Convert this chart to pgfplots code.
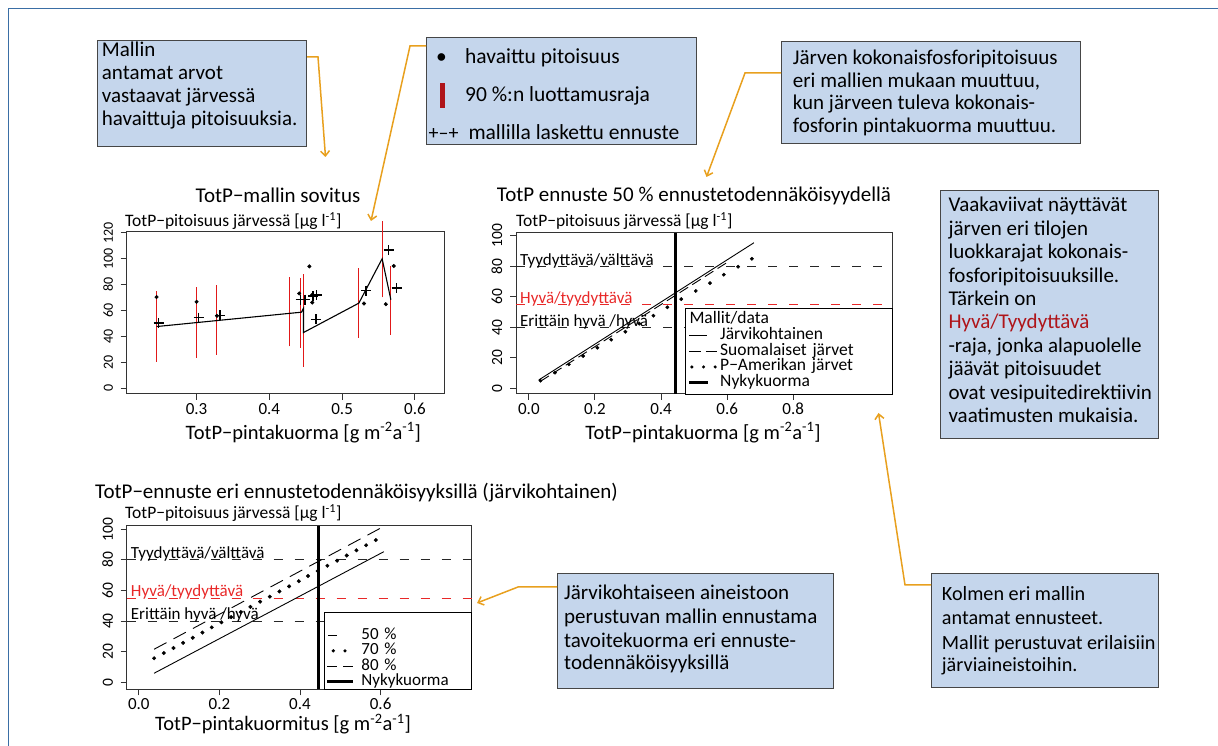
\documentclass[border=0pt]{standalone}
\usepackage{fontspec}
\setmainfont{Carlito}
\usepackage{pgfplots}
\pgfplotsset{compat=1.18}
\usetikzlibrary{arrows.meta}
\definecolor{boxblue}{RGB}{197,214,236}
\definecolor{boxedge}{RGB}{70,70,70}
\definecolor{orarrow}{RGB}{232,160,30}
\definecolor{framecol}{RGB}{58,110,165}
\definecolor{rred}{RGB}{225,25,25}
\definecolor{dred}{RGB}{175,20,25}
\definecolor{lred}{RGB}{232,40,40}
\newcommand\boxfont{\fontsize{21}{23}\selectfont}
\newcommand\boxfontB{\fontsize{21.5}{23}\selectfont}
\newcommand\boxfontF{\fontsize{20.2}{23}\selectfont}
\newcommand\titlefont{\fontsize{21}{24}\selectfont}
\newcommand\ylabfont{\fontsize{17.5}{20}\selectfont}
\newcommand\xlabfont{\fontsize{20.5}{24}\selectfont}
\newcommand\xticksize{\fontsize{17}{20}\selectfont}
\newcommand\yticksize{\fontsize{15.5}{18}\selectfont}
\newcommand\ytickone{\fontsize{14}{16}\selectfont}
\newcommand\clsfont{\fontsize{17}{20}\selectfont}
\newcommand\legfont{\fontsize{17.5}{20}\selectfont}
\newcommand\legfontC{\fontsize{17}{20}\selectfont}
\pgfplotsset{
  rplot/.style={
    scale only axis, clip=false,
    axis line style={line width=1pt, black!80},
    tick align=outside, tick pos=left,
    major tick length=6pt,
    tick style={black!80, line width=1pt},
    minor tick num=0,
    /pgf/number format/assume math mode=true,
    y tick label style={font=\yticksize, rotate=90, anchor=south, inner xsep=0pt, inner ysep=7.5pt},
    x tick label style={font=\xticksize, anchor=north, inner sep=3pt, /pgf/number format/.cd, fixed, fixed zerofill, precision=1, /tikz/.cd},
  },
  clsline/.style={line width=0.9pt, dash pattern=on 9pt off 12pt},
}
\begin{document}
\begin{tikzpicture}[x=1pt,y=1pt]
\path[use as bounding box] (0,0) rectangle (1218,746);
\draw[framecol, line width=1.5pt] (8.5,0) -- (8.5,737.5) -- (1218,737.5);
\tikzset{tbox/.style={fill=boxblue, draw=boxedge, line width=1pt},
  tl/.style={anchor=base west, inner sep=0pt, font=\boxfont},
  oarrow/.style={draw=orarrow, line width=1.5pt, -{Straight Barb[length=5pt,width=9pt]}}}
% Box A
\draw[tbox] (97.3,599.3) rectangle (306,705.3);
\node[tl] at (101.7,689.3) {Mallin};
\node[tl] at (101.7,666) {antamat arvot};
\node[tl] at (101.7,643.3) {vastaavat järvessä};
\node[tl] at (101.7,620.3) {havaittuja pitoisuuksia.};
% Box B
\draw[tbox] (426.7,601) rectangle (696.7,708.7);
\node[tl, anchor=base, font=\boxfontB] at (441.5,682.7) {•};
\node[tl, font=\boxfontB] at (465,682.7) {havaittu pitoisuus};
\fill[dred] (440,637.7) rectangle (444.7,662.7);
\node[tl, font=\boxfontB] at (465,644.3) {90 \%:n luottamusraja};
\node[tl, font=\fontsize{20}{22}\selectfont] at (428.5,606) {+–+};
\node[tl, font=\boxfontB] at (468.3,606) {mallilla laskettu ennuste};
% Box C
\draw[tbox] (781.7,602) rectangle (1080.7,704.3);
\node[tl] at (792.7,681) {Järven kokonaisfosforipitoisuus};
\node[tl] at (792.7,658.5) {eri mallien mukaan muuttuu,};
\node[tl] at (792.7,636) {kun järveen tuleva kokonais-};
\node[tl] at (792.7,613.5) {fosforin pintakuorma muuttuu.};
% Box D
\draw[tbox] (940.7,307.7) rectangle (1158.3,555.3);
\node[tl] at (948.3,534.3) {Vaakaviivat näyttävät};
\node[tl] at (948.3,510.85) {järven eri tilojen};
\node[tl] at (948.3,487.4) {luokkarajat kokonais-};
\node[tl] at (948.3,463.95) {fosforipitoisuuksille.};
\node[tl] at (948.3,440.5) {Tärkein on};
\node[tl, text=dred] at (948.3,417.05) {Hyvä/Tyydyttävä};
\node[tl] at (948.3,393.6) {-raja, jonka alapuolelle};
\node[tl] at (948.3,370.15) {jäävät pitoisuudet};
\node[tl] at (948.3,346.7) {ovat vesipuitedirektiivin};
\node[tl] at (948.3,323.25) {vaatimusten mukaisia.};
% Box E
\draw[tbox] (557.3,57.7) rectangle (833.3,172);
\node[tl] at (564,146) {Järvikohtaiseen aineistoon};
\node[tl] at (564,122.7) {perustuvan mallin ennustama};
\node[tl] at (564,98.7) {tavoitekuorma eri ennuste-};
\node[tl] at (564,76) {todennäköisyyksillä};
% Box F
\draw[tbox] (931.7,58.3) rectangle (1158.3,172);
\node[tl, font=\boxfontF] at (941.7,145.3) {Kolmen eri mallin};
\node[tl, font=\boxfontF] at (941.7,121.7) {antamat ennusteet.};
\node[tl, font=\boxfontF] at (941.7,96.7) {Mallit perustuvat erilaisiin};
\node[tl, font=\boxfontF] at (941.7,74.3) {järviaineistoihin.};
% Arrows
\draw[oarrow] (307,689) -- (318,689) -- (325.5,589);
\draw[oarrow] (426,700) -- (410,700) -- (371,525);
\draw[oarrow] (781,673) -- (745,673) -- (706.5,569);
\draw[oarrow] (931,161) -- (905,161) -- (878.5,333);
\draw[oarrow] (557,159) -- (518,159) -- (477,143);

% Plot 1 texts
\node[anchor=base, inner sep=0pt, font=\titlefont] at (278,543.7) {TotP−mallin sovitus};
\node[anchor=base west, inner sep=0pt, font=\ylabfont] at (125,519.3) {TotP−pitoisuus järvessä [µg l\textsuperscript{-1}]};
\node[anchor=base, inner sep=0pt, font=\xlabfont] at (303.3,306.7) {TotP−pintakuorma [g m\textsuperscript{-2}a\textsuperscript{-1}]};
% Plot 2 texts
\node[anchor=base, inner sep=0pt, font=\titlefont] at (694,544.3) {TotP ennuste 50 \% ennustetodennäköisyydellä};
\node[anchor=base west, inner sep=0pt, font=\ylabfont] at (516,519.3) {TotP−pitoisuus järvessä [µg l\textsuperscript{-1}]};
\node[anchor=base, inner sep=0pt, font=\xlabfont] at (703,306.7) {TotP−pintakuorma [g m\textsuperscript{-2}a\textsuperscript{-1}]};
% Plot 3 texts
\node[anchor=base west, inner sep=0pt, font=\titlefont] at (95,247.7) {TotP−ennuste eri ennustetodennäköisyyksillä (järvikohtainen)};
\node[anchor=base west, inner sep=0pt, font=\ylabfont] at (125,227.7) {TotP−pitoisuus järvessä [µg l\textsuperscript{-1}]};
\node[anchor=base, inner sep=0pt, font=\xlabfont] at (283,15) {TotP−pintakuormitus [g m\textsuperscript{-2}a\textsuperscript{-1}]};

% ---------- Plot 1 ----------
\begin{axis}[rplot, at={(126.7pt,352pt)}, anchor=south west,
  width=317.3pt, height=162.3pt,
  xmin=0.204, xmax=0.640, ymin=-4.4, ymax=121,
  xtick={0.3,0.4,0.5,0.6}, ytick={0,20,40,60,80,100,120},
  y tick label style={font=\ytickone}]
\addplot[rred, line width=1.1pt] coordinates {(0.245,20.6) (0.245,74.8)};
\addplot[rred, line width=1.1pt] coordinates {(0.300,23.7) (0.300,78.2)};
\addplot[rred, line width=1.1pt] coordinates {(0.328,25.8) (0.328,80.0)};
\addplot[rred, line width=1.1pt] coordinates {(0.428,32.3) (0.428,85.9)};
\addplot[rred, line width=1.1pt] coordinates {(0.443,31.5) (0.443,84.9)};
\addplot[rred, line width=1.1pt] coordinates {(0.447,16.8) (0.447,88.3)};
\addplot[rred, line width=1.1pt] coordinates {(0.523,39.2) (0.523,93.2)};
\addplot[rred, line width=1.1pt] coordinates {(0.555,70.2) (0.555,129.5)};
\addplot[rred, line width=1.1pt] coordinates {(0.567,41.3) (0.567,94.7)};
\addplot[black, line width=1.1pt] coordinates {(0.245,47.7) (0.444,58.8) (0.447,61.9) (0.447,43.1) (0.523,65.8) (0.555,100.1) (0.567,68.4)};
\addplot[only marks, mark=*, mark size=1.8pt, black] coordinates {(0.245,70.5) (0.300,66.8) (0.328,56.0) (0.441,73.3) (0.455,94.2) (0.459,72.3) (0.459,66.3) (0.530,65.5) (0.560,65.0) (0.571,94.5)};
\addplot[only marks, mark=+, mark size=5pt, mark options={line width=1.3pt}, black] coordinates {(0.248,50.4) (0.303,54.7) (0.332,56.3) (0.443,68.6) (0.449,68.6) (0.460,71.2) (0.465,72.0) (0.464,53.4) (0.533,75.4) (0.564,106.8) (0.575,77.4)};
\end{axis}

% ---------- Plot 2 ----------
\begin{axis}[rplot, at={(516pt,352pt)}, anchor=south west,
  width=376.7pt, height=161.3pt,
  xmin=-0.039, xmax=1.101, ymin=-3.7, ymax=102,
  xtick={0,0.2,0.4,0.6,0.8}, ytick={0,20,40,60,80,100},
  legend style={at={(rel axis cs:1,0)}, anchor=south east, draw=black, fill=white,
    inner xsep=2.6pt, inner ysep=3pt, font=\legfont, cells={anchor=west},
    nodes={text width=167pt, text height=11pt, text depth=3pt, inner xsep=2.7pt, inner ysep=0.95pt},
    row sep=0pt, column sep=0pt}]
\addplot[black!85, clsline, forget plot] coordinates {(-0.039,80) (1.101,80)};
\addplot[lred, clsline, forget plot] coordinates {(-0.039,55) (1.101,55)};
\addplot[black!85, clsline, forget plot] coordinates {(-0.039,40) (1.101,40)};
\node[anchor=base west, inner sep=0pt, font=\clsfont] at (axis cs:-0.027,80.8) {Tyydyttävä/välttävä};
\node[anchor=base west, inner sep=0pt, font=\clsfont, text=lred] at (axis cs:-0.027,55.8) {Hyvä/tyydyttävä};
\node[anchor=base west, inner sep=0pt, font=\clsfont] at (axis cs:-0.027,40.8) {Erittäin hyvä /hyvä};
\addlegendimage{empty legend}
\addlegendentry{\hspace*{-30.7pt}Mallit/data}
\addplot[black, line width=0.9pt,
  legend image code/.code={\path[draw=none,fill=none] (0pt,0pt) -- (28pt,0pt); \draw[black, solid, line width=0.9pt] (0pt,0pt) -- (18pt,0pt);}]
  coordinates {(0.030,5.5) (0.681,95.4)};
\addlegendentry{Järvikohtainen}
\addplot[black, line width=0.9pt, dash pattern=on 10pt off 5pt,
  legend image code/.code={\path[draw=none,fill=none] (0pt,0pt) -- (28pt,0pt); \draw[black, line width=0.9pt, dash pattern=on 11.3pt off 5pt] (0pt,0pt) -- (27.6pt,0pt);}]
  coordinates {(0.035,4.6) (0.600,82.5)};
\addlegendentry{Suomalaiset järvet}
\addplot[only marks, mark=*, mark size=1.7pt, black,
  legend image code/.code={\path[draw=none,fill=none] (0pt,0pt) -- (28pt,0pt); \draw[black, line width=3.4pt, line cap=round, dash pattern=on 0pt off 11.65pt] (2.4pt,0pt) -- (26pt,0pt);}]
  coordinates {(0.035,5.0) (0.079,10.3) (0.121,15.7) (0.164,21.2) (0.207,26.6) (0.249,31.9) (0.292,37.1) (0.334,42.4) (0.377,47.6) (0.419,53.1) (0.461,58.5) (0.505,63.8) (0.548,69.0) (0.590,74.5) (0.633,79.7) (0.675,84.9)};
\addlegendentry{P−Amerikan järvet}
\addplot[black, line width=2.8pt,
  legend image code/.code={\path[draw=none,fill=none] (0pt,0pt) -- (28pt,0pt); \draw[black, solid, line width=2.8pt] (0pt,0pt) -- (19pt,0pt);}]
  coordinates {(0.443,-3.7) (0.443,102)};
\addlegendentry{Nykykuorma}
\end{axis}

% ---------- Plot 3 ----------
\begin{axis}[rplot, at={(126.7pt,56.7pt)}, anchor=south west,
  width=345pt, height=163.6pt,
  xmin=-0.030, xmax=0.826, ymin=-4.6, ymax=102.4,
  xtick={0,0.2,0.4,0.6}, ytick={0,20,40,60,80,100},
  legend style={at={(rel axis cs:1,0)}, anchor=south east, draw=black, fill=white,
    inner xsep=1.5pt, inner ysep=0pt, font=\legfontC, cells={anchor=west},
    nodes={text width=105.8pt, text height=10.8pt, text depth=3pt, inner xsep=2.7pt, inner ysep=0.75pt},
    row sep=0pt, column sep=0pt}]
\addplot[black!85, clsline, forget plot] coordinates {(-0.030,80) (0.826,80)};
\addplot[lred, clsline, forget plot] coordinates {(-0.030,55) (0.826,55)};
\addplot[black!85, clsline, forget plot] coordinates {(-0.030,40) (0.826,40)};
\node[anchor=base west, inner sep=0pt, font=\clsfont] at (axis cs:-0.020,81) {Tyydyttävä/välttävä};
\node[anchor=base west, inner sep=0pt, font=\clsfont, text=lred] at (axis cs:-0.020,56) {Hyvä/tyydyttävä};
\node[anchor=base west, inner sep=0pt, font=\clsfont] at (axis cs:-0.020,41.2) {Erittäin hyvä /hyvä};
\addlegendimage{empty legend}
\addlegendentry{}
\addplot[black, line width=0.9pt,
  legend image code/.code={\path[draw=none,fill=none] (0pt,0pt) -- (31.5pt,0pt); \draw[black, solid, line width=0.9pt] (1pt,0pt) -- (9.4pt,0pt);}]
  coordinates {(0.038,5.9) (0.608,85.4)};
\addlegendentry{50 \%}
\addplot[only marks, mark=*, mark size=1.8pt, black,
  legend image code/.code={\path[draw=none,fill=none] (0pt,0pt) -- (31.5pt,0pt); \draw[black, line width=3.6pt, line cap=round, dash pattern=on 0pt off 11.7pt] (6pt,0pt) -- (18pt,0pt);}]
  coordinates {(0.038,15.7) (0.062,19.1) (0.086,22.4) (0.110,25.8) (0.134,29.1) (0.158,32.5) (0.181,35.9) (0.205,39.2) (0.229,42.6) (0.253,45.9) (0.277,49.3) (0.301,52.7) (0.325,56.0) (0.349,59.4) (0.373,62.7) (0.397,66.1) (0.420,69.5) (0.444,72.8) (0.468,76.2) (0.492,79.5) (0.516,82.9) (0.540,86.3) (0.564,89.6) (0.588,93.0)};
\addlegendentry{70 \%}
\addplot[black, line width=0.9pt, dash pattern=on 14pt off 8pt,
  legend image code/.code={\path[draw=none,fill=none] (0pt,0pt) -- (31.5pt,0pt); \draw[black, line width=0.9pt, dash pattern=on 9.4pt off 6.6pt] (0pt,0pt) -- (30pt,0pt);}]
  coordinates {(0.038,21.6) (0.602,101.1)};
\addlegendentry{80 \%}
\addplot[black, line width=2.8pt,
  legend image code/.code={\path[draw=none,fill=none] (0pt,0pt) -- (31.5pt,0pt); \draw[black, solid, line width=2.8pt] (0pt,0pt) -- (26pt,0pt);}]
  coordinates {(0.446,-4.6) (0.446,102.4)};
\addlegendentry{Nykykuorma}
\end{axis}
\end{tikzpicture}
\end{document}
